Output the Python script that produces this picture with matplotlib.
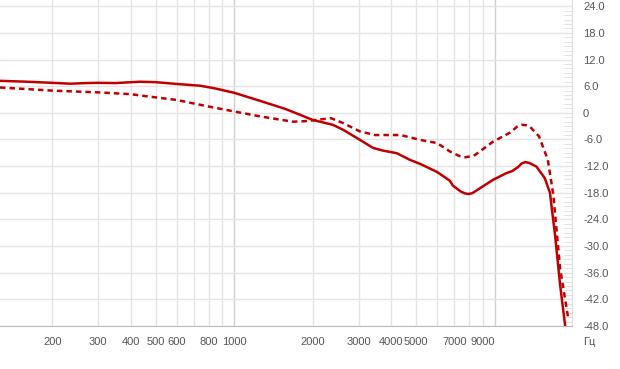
import numpy as np
import matplotlib
matplotlib.use('Agg')
import matplotlib.pyplot as plt

plt.rcParams['font.family'] = ['Liberation Sans', 'DejaVu Sans']

# Frequency response
freq_solid = [126, 160, 200, 235, 270, 300, 350, 434, 500, 600, 740, 843, 1000,
              1255, 1566, 1790, 2000, 2390, 2615, 3040, 3410, 3720, 4210, 4730,
              5170, 6000, 6730, 6910, 7400, 7650, 7900, 8200, 8770, 9850, 11070,
              11690, 12300, 12700, 13100, 13600, 14460, 15570, 16300, 17050,
              17830, 18650, 19200]
db_solid = [7.2, 7.0, 6.75, 6.55, 6.7, 6.75, 6.7, 7.0, 6.9, 6.5, 6.1, 5.5, 4.5,
            2.7, 0.9, -0.45, -1.6, -2.7, -3.8, -6.1, -7.9, -8.5, -9.1, -10.6,
            -11.5, -13.3, -15.3, -16.4, -17.7, -18.1, -18.3, -18.1, -17.0, -15.1,
            -13.6, -13.1, -12.2, -11.4, -11.1, -11.3, -12.1, -14.7, -18.0,
            -27.5, -38.7, -48.0, -55.0]

freq_dash = [126, 200, 300, 400, 450, 600, 800, 1000, 1255, 1680, 1850, 2000,
             2350, 2615, 3040, 3470, 4350, 5170, 6000, 6730, 7300, 7700, 8100,
             8400, 9850, 11500, 12200, 12700, 13200, 13700, 14800, 16000, 16800,
             17830, 19160]
db_dash = [5.7, 5.0, 4.6, 4.2, 3.8, 2.9, 1.4, 0.3, -0.8, -2.0, -1.9, -1.7,
           -1.2, -2.3, -4.2, -5.0, -5.0, -6.1, -6.8, -8.7, -9.7, -10.0, -9.8,
           -9.5, -6.5, -4.4, -3.1, -2.7, -2.8, -3.2, -5.3, -10.6, -18.5,
           -35.0, -46.3]

xtick_vals = [200, 300, 400, 500, 600, 800, 1000, 2000, 3000, 4000, 5000, 7000, 9000]
grid_light = [200, 300, 400, 500, 600, 700, 800, 900,
              2000, 3000, 4000, 5000, 6000, 7000, 8000, 9000]
grid_dark = [1000, 10000]
ytick_vals = np.arange(-48, 25, 6)

red = '#c00000'

fig = plt.figure(figsize=(6.2, 3.69), dpi=100)
ax = fig.add_axes([0, (369 - 326) / 369, 572 / 620, 326 / 369])

for f in grid_light:
    ax.axvline(f, color='#e4e4e4', lw=1, zorder=0)
for f in grid_dark:
    ax.axvline(f, color='#cfcfcf', lw=1, zorder=0)
for v in ytick_vals:
    ax.axhline(v, color='#e4e4e4', lw=1, zorder=0)

ax.plot(freq_solid, db_solid, color=red, lw=1.8, solid_joinstyle='round', zorder=3)
ax.plot(freq_dash, db_dash, color=red, lw=1.8, dashes=(2.2, 1.6), zorder=3)

ax.set_xscale('log')
ax.set_xlim(126, 19810)
ax.set_ylim(-48, 25.4)

ax.set_xticks(xtick_vals)
ax.set_xticklabels([str(v) for v in xtick_vals])
ax.xaxis.set_minor_locator(matplotlib.ticker.NullLocator())
ax.tick_params(axis='x', length=0, pad=8, labelsize=8, labelcolor='#555555')

ax.yaxis.tick_right()
ax.set_yticks(ytick_vals)
ax.set_yticklabels(['0' if v == 0 else f'{v:.1f}' for v in ytick_vals])
ax.set_yticks(np.arange(-48, 25, 1), minor=True)
ax.tick_params(axis='y', which='major', length=0, pad=8, labelsize=8, labelcolor='#555555')
ax.tick_params(axis='y', which='minor', direction='in', length=6, color='#e2e2e2', width=0.8)

for s in ['top', 'left']:
    ax.spines[s].set_visible(False)
ax.spines['bottom'].set_color('#bbbbbb')
ax.spines['right'].set_color('#dddddd')

fig.text(583 / 620, 1 - 342 / 369, 'Гц', fontsize=8, color='#555555', ha='left', va='center')

fig.savefig('out.png', dpi=100)
